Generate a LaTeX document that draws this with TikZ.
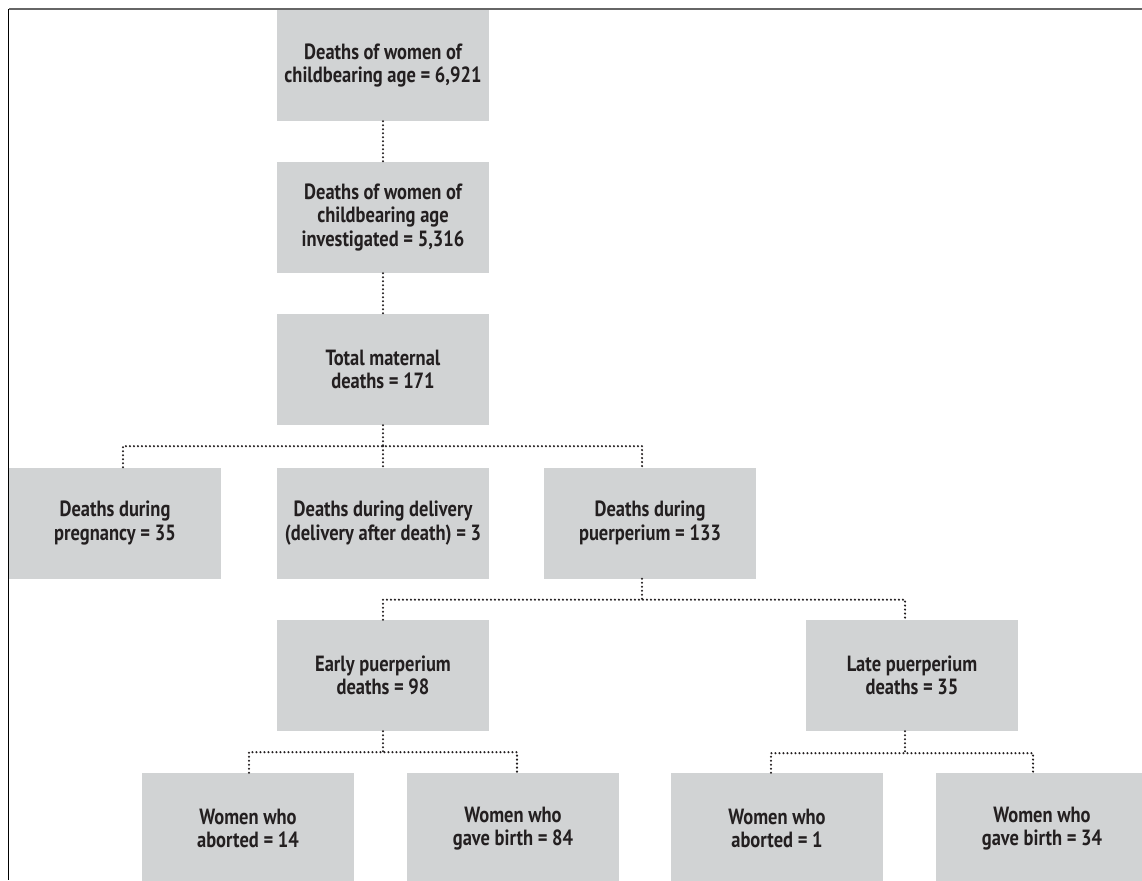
\documentclass[tikz,border=0pt]{standalone}
\usepackage{fontspec}
\setmainfont{PT Sans}[FakeStretch=0.84]
\definecolor{boxgray}{RGB}{209,211,212}
\definecolor{ink}{RGB}{35,31,32}

\begin{document}
\begin{tikzpicture}[x=1pt, y=-1pt,
    box/.style={fill=boxgray, minimum width=212pt, minimum height=111pt, inner sep=0pt,
      align=center, text=ink, font=\fontsize{22}{23.5}\selectfont\bfseries},
    conn/.style={ink, line width=2.3pt, line cap=round, dash pattern=on 0pt off 4pt}]
    \useasboundingbox (0,0) rectangle (1142,880);

    % Frame
    \draw[black!60, line width=2pt] (8.5,9.5) -- (1142,9.5);
    \draw[black, line width=1.4pt] (8.5,9.5) -- (8.5,880);

    % Upper chain
    \node[box] (women) at (383,65.5) {Deaths of women of\\childbearing age = 6,921};
    \node[box] (invest) at (383,217.5) {Deaths of women of\\childbearing age\\investigated = 5,316};
    \node[box] (total) at (383,369.5) {Total maternal\\deaths = 171};

    % Time of death
    \node[box] (preg) at (115,523) {Deaths during\\pregnancy = 35};
    \node[box] (deliv) at (383,523) {Deaths during delivery\\(delivery after death) = 3};
    \node[box] (puer) at (650,523) {Deaths during\\puerperium = 133};

    % Puerperium split
    \node[box] (early) at (383,675.5) {Early puerperium\\deaths = 98};
    \node[box] (late) at (912,675.5) {Late puerperium\\deaths = 35};

    % Outcome of pregnancy
    \node[box] (abEarly) at (248,828.5) {Women who\\aborted = 14};
    \node[box] (birthEarly) at (513,828.5) {Women who\\gave birth = 84};
    \node[box] (abLate) at (777,828.5) {Women who\\aborted = 1};
    \node[box] (birthLate) at (1042,828.5) {Women who\\gave birth = 34};

    % Dotted connectors
    \draw[conn] (women) -- (invest);
    \draw[conn] (invest) -- (total);

    \draw[conn] (total.south) -- ++(0,21) coordinate (j1);
    \draw[conn] ([xshift=8pt]preg.north) |- (j1) -| ([xshift=-8pt]puer.north);
    \draw[conn] (j1) -- (deliv.north);

    \draw[conn] ([xshift=-8pt]puer.south) -- ++(0,21) coordinate (j2);
    \draw[conn] (early.north) |- (j2) -| ([xshift=-7pt]late.north);

    \draw[conn] (early.south) -- ++(0,21) coordinate (j3);
    \draw[conn] ([xshift=1pt]abEarly.north) |- (j3) -| ([xshift=4pt]birthEarly.north);

    \draw[conn] ([xshift=-7pt]late.south) -- ++(0,22) coordinate (j4);
    \draw[conn] ([xshift=-6pt]abLate.north) |- (j4) -| ([xshift=-9pt]birthLate.north);
\end{tikzpicture}
\end{document}
